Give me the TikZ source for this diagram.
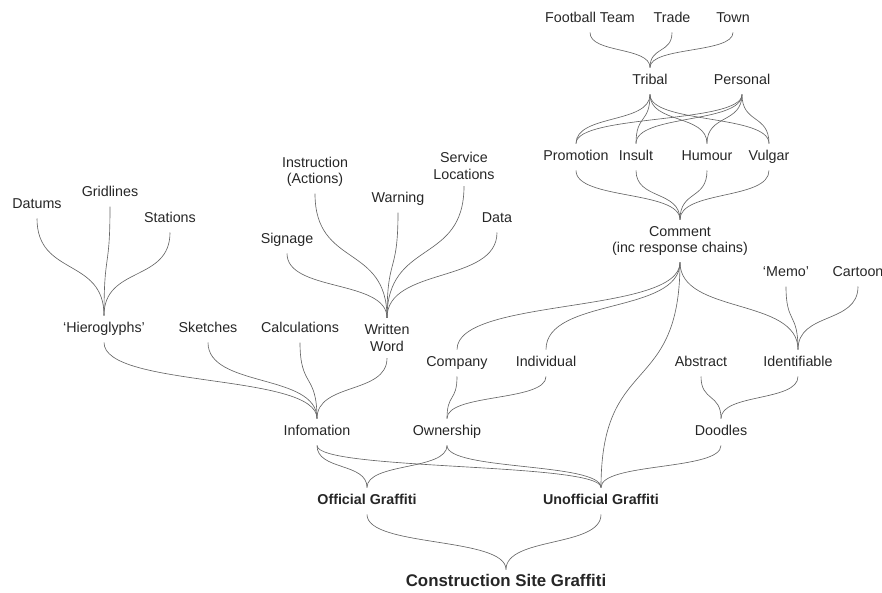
\documentclass[tikz,border=0pt]{standalone}
\usepackage{fontspec}
\setmainfont{Liberation Sans}
\usetikzlibrary{calc}

\begin{document}
\begin{tikzpicture}
  [x = 0.7pt, y = -0.7pt,
   every node/.style = {font = \fontsize{10}{11.5}\selectfont, text = black!85},
   lbl/.style = {inner xsep = 1pt, inner ysep = 4.5pt, text height = 7.5pt, text depth = 2pt},
   lbl2/.style = {inner xsep = 1pt, inner ysep = 4.5pt, align = center},
   kind/.style = {lbl, font = \fontsize{10}{11.5}\selectfont\bfseries},
   fork/.style = {draw = black!60, line width = 0.45pt,
     to path = {.. controls ($(\tikztostart)!0.6!(\tikztostart |- \tikztotarget)$)
       and ($(\tikztotarget)!0.6!(\tikztotarget |- \tikztostart)$) .. (\tikztotarget)}}]
  \useasboundingbox (0,0) rectangle (882,592);

  % comment branch
  \node[lbl] (ft) at (590,19) {Football Team};
  \node[lbl] (trade) at (672,19) {Trade};
  \node[lbl] (town) at (733,19) {Town};
  \node[lbl] (tribal) at (650,81) {Tribal};
  \node[lbl] (personal) at (742,81) {Personal};
  \node[lbl] (promo) at (576,157) {Promotion};
  \node[lbl] (insult) at (636,157) {Insult};
  \node[lbl] (humour) at (707,157) {Humour};
  \node[lbl] (vulgar) at (769,157) {Vulgar};
  \node[lbl2] (comment) at (680,241) {Comment\\(inc response chains)};

  % information branch
  \node[lbl] (datums) at (37,205) {Datums};
  \node[lbl] (grid) at (110,193) {Gridlines};
  \node[lbl] (stations) at (170,219) {Stations};
  \node[lbl] (hiero) at (104,329) {`Hieroglyphs'};
  \node[lbl] (sketches) at (208,329) {Sketches};
  \node[lbl] (calcs) at (300,329) {Calculations};
  \node[lbl2] (written) at (387,338) {Written\\Word};
  \node[lbl] (signage) at (287,240) {Signage};
  \node[lbl2] (instr) at (315,172) {Instruction\\(Actions)};
  \node[lbl] (warning) at (398,199) {Warning};
  \node[lbl2] (service) at (464,166) {Service\\Locations};
  \node[lbl] (data) at (497,219) {Data};

  % ownership and doodles
  \node[lbl] (company) at (457,363) {Company};
  \node[lbl] (indiv) at (546,363) {Individual};
  \node[lbl] (abstract) at (701,363) {Abstract};
  \node[lbl] (ident) at (798,363) {Identifiable};
  \node[lbl] (memo) at (786,273) {`Memo'};
  \node[lbl] (cartoon) at (858,273) {Cartoon};
  \node[lbl] (info) at (317,432) {Infomation};
  \node[lbl] (owner) at (447,432) {Ownership};
  \node[lbl] (doodles) at (721,432) {Doodles};

  \node[kind] (official) at (367,501) {Official Graffiti};
  \node[kind] (unofficial) at (601,501) {Unofficial Graffiti};
  \node[kind, font = \fontsize{11.8}{13}\selectfont\bfseries] (site) at (506,583) {Construction Site Graffiti};

  \draw[fork] (ft.south) to (tribal.north);
  \draw[fork] (trade.south) to (tribal.north);
  \draw[fork] (town.south) to (tribal.north);
  \draw[fork] (tribal.south) to (promo.north);
  \draw[fork] (tribal.south) to (insult.north);
  \draw[fork] (tribal.south) to (humour.north);
  \draw[fork] (tribal.south) to (vulgar.north);
  \draw[fork] (personal.south) to (promo.north);
  \draw[fork] (personal.south) to (insult.north);
  \draw[fork] (personal.south) to (humour.north);
  \draw[fork] (personal.south) to (vulgar.north);
  \draw[fork] (promo.south) to (comment.north);
  \draw[fork] (insult.south) to (comment.north);
  \draw[fork] (humour.south) to (comment.north);
  \draw[fork] (vulgar.south) to (comment.north);
  \draw[fork] (comment.south) to (company.north);
  \draw[fork] (comment.south) to (indiv.north);
  \draw[fork] (comment.south) to (unofficial.north);
  \draw[fork] (comment.south) to (ident.north);

  \draw[fork] (datums.south) to (hiero.north);
  \draw[fork] (grid.south) to (hiero.north);
  \draw[fork] (stations.south) to (hiero.north);
  \draw[fork] (signage.south) to (written.north);
  \draw[fork] (instr.south) to (written.north);
  \draw[fork] (warning.south) to (written.north);
  \draw[fork] (service.south) to (written.north);
  \draw[fork] (data.south) to (written.north);
  \draw[fork] (hiero.south) to (info.north);
  \draw[fork] (sketches.south) to (info.north);
  \draw[fork] (calcs.south) to (info.north);
  \draw[fork] (written.south) to (info.north);

  \draw[fork] (company.south) to (owner.north);
  \draw[fork] (indiv.south) to (owner.north);
  \draw[fork] (memo.south) to (ident.north);
  \draw[fork] (cartoon.south) to (ident.north);
  \draw[fork] (abstract.south) to (doodles.north);
  \draw[fork] (ident.south) to (doodles.north);

  \draw[fork] (info.south) to (official.north);
  \draw[fork] (info.south) to (unofficial.north);
  \draw[fork] (owner.south) to (official.north);
  \draw[fork] (owner.south) to (unofficial.north);
  \draw[fork] (doodles.south) to (unofficial.north);
  \draw[fork] (official.south) to (site.north);
  \draw[fork] (unofficial.south) to (site.north);
\end{tikzpicture}
\end{document}
